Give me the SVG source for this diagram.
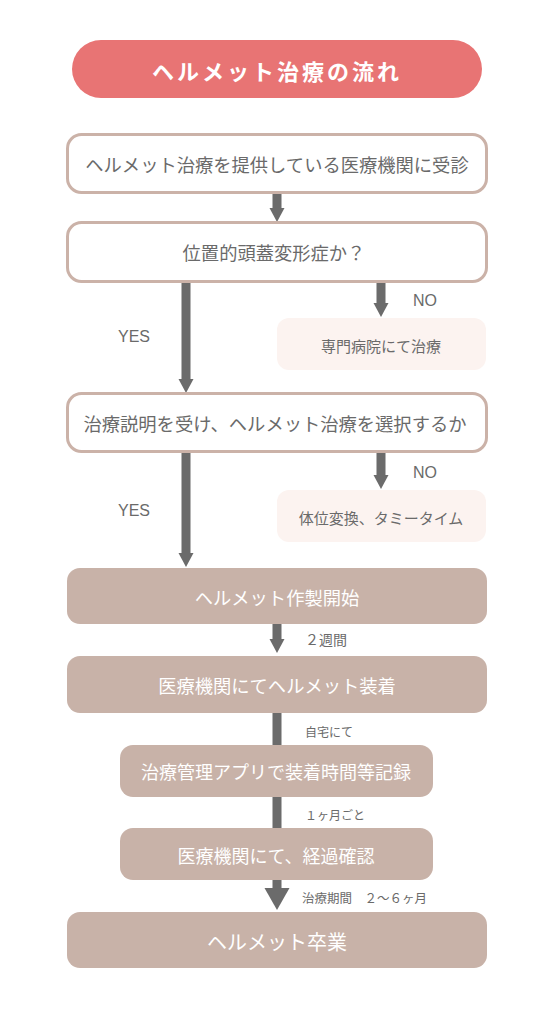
<svg xmlns="http://www.w3.org/2000/svg" width="554" height="1024" viewBox="0 0 554 1024">
<style>
text{font-family:"Noto Sans CJK JP","Noto Sans",sans-serif;text-anchor:middle;dominant-baseline:central}
.out{fill:#fff;stroke:#CBB2A8;stroke-width:3}
.outt{fill:#6a6a6a;font-size:18.3px}
.pink{fill:#FCF3F0}
.pinkt{fill:#6a6a6a;font-size:15px}
.fill{fill:#C8B2A8}
.fillt{fill:#fff;font-size:18.3px}
.lbl{fill:#6a6a6a;font-family:"Liberation Sans",Arial,sans-serif;font-size:16px}
.sm{fill:#6a6a6a;text-anchor:start;font-size:12px}
.shaft{fill:#6B6B6B}
</style>
<rect width="554" height="1024" fill="#fff"/>
<g id="title">
<rect x="72" y="40" width="410" height="58" rx="29" fill="#E87474"/>
<text x="277" y="70" fill="#fff" font-size="22" font-weight="bold" letter-spacing="3">ヘルメット治療の流れ</text>
</g>
<g id="connectors">
<rect class="shaft" x="272.5" y="193" width="9" height="16"/><polygon class="shaft" points="269.5,208 284.5,208 277,222"/>
<rect class="shaft" x="181.5" y="282" width="9" height="98"/><polygon class="shaft" points="178.5,379 193.5,379 186,393"/>
<rect class="shaft" x="376.5" y="282" width="9" height="22"/><polygon class="shaft" points="373.5,303 388.5,303 381,317"/>
<rect class="shaft" x="181.5" y="452" width="9" height="102"/><polygon class="shaft" points="178.5,553 193.5,553 186,567"/>
<rect class="shaft" x="376.5" y="452" width="9" height="24"/><polygon class="shaft" points="373.5,475 388.5,475 381,489"/>
<rect class="shaft" x="272.5" y="624" width="9" height="16"/><polygon class="shaft" points="269.5,639 284.5,639 277,653"/>
<rect class="shaft" x="272.5" y="713" width="9" height="32"/>
<rect class="shaft" x="272.5" y="797" width="9" height="31"/>
<rect class="shaft" x="272.5" y="880" width="9" height="9"/><polygon class="shaft" points="264.5,888 289.5,888 277,910"/>
<text class="lbl" x="425" y="300">NO</text>
<text class="lbl" x="134" y="336">YES</text>
<text class="lbl" x="425" y="472">NO</text>
<text class="lbl" x="134" y="510">YES</text>
<text class="sm" x="305" y="639" style="font-size:14px">２週間</text>
<text class="sm" x="305" y="731">自宅にて</text>
<text class="sm" x="305" y="814">１ヶ月ごと</text>
<text class="sm" x="302" y="897" style="font-size:12.5px">治療期間　２～６ヶ月</text>
</g>
<g id="n1"><rect class="out" x="67.5" y="134.5" width="419" height="58" rx="14"/><text class="outt" x="277" y="164">ヘルメット治療を提供している医療機関に受診</text></g>
<g id="n2"><rect class="out" x="67.5" y="222.5" width="419" height="59" rx="14"/><text class="outt" x="274" y="252">位置的頭蓋変形症か？</text></g>
<g id="n3"><rect class="pink" x="277" y="318" width="209" height="52" rx="12"/><text class="pinkt" x="381" y="345">専門病院にて治療</text></g>
<g id="n4"><rect class="out" x="67.5" y="393.5" width="419" height="58" rx="14"/><text class="outt" x="275" y="423">治療説明を受け、ヘルメット治療を選択するか</text></g>
<g id="n5"><rect class="pink" x="277" y="490" width="209" height="52" rx="12"/><text class="pinkt" x="381" y="517">体位変換、タミータイム</text></g>
<g id="n6"><rect class="fill" x="67" y="568" width="420" height="56" rx="13"/><text class="fillt" x="277" y="597">ヘルメット作製開始</text></g>
<g id="n7"><rect class="fill" x="67" y="656" width="420" height="57" rx="13"/><text class="fillt" x="277" y="685">医療機関にてヘルメット装着</text></g>
<g id="n8"><rect class="fill" x="120" y="745" width="313" height="52" rx="13"/><text class="fillt" x="276" y="771" style="font-size:18px">治療管理アプリで装着時間等記録</text></g>
<g id="n9"><rect class="fill" x="120" y="828" width="313" height="52" rx="13"/><text class="fillt" x="276" y="855" style="font-size:18px">医療機関にて、経過確認</text></g>
<g id="n10"><rect class="fill" x="67" y="912" width="420" height="56" rx="13"/><text class="fillt" x="277" y="941" style="font-size:20px">ヘルメット卒業</text></g>
</svg>
